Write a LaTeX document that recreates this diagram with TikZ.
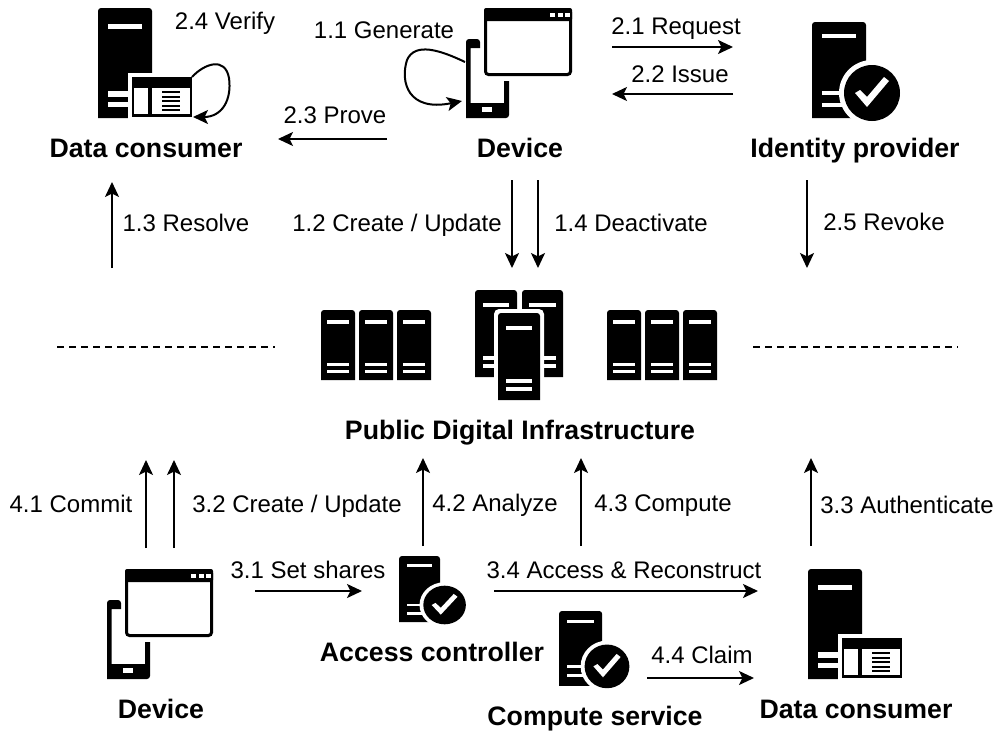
\documentclass[tikz,border=0pt]{standalone}
\usepackage{fontspec}
\setmainfont{Liberation Sans}
\usetikzlibrary{arrows.meta}
\newcommand{\SrvBody}[4]{% x y w h
  \fill[black] (#1,#2+#4) {[rounded corners=3pt] -- (#1,#2) -- (#1+#3,#2)} -- (#1+#3,#2+#4) -- cycle;
  \fill[white] (#1+.18*#3,#2+.145*#4) rectangle (#1+.82*#3,#2+.195*#4);
  \fill[white] (#1+.18*#3,#2+.755*#4) rectangle (#1+.82*#3,#2+.805*#4);
  \fill[white] (#1+.18*#3,#2+.85*#4) rectangle (#1+.82*#3,#2+.9*#4);
}
\tikzset{
  x=1pt,y=-1pt,
  lbl/.style={font=\fontsize{24}{28}\selectfont,inner sep=0pt,anchor=base,yshift=-8.5pt},
  ttl/.style={font=\fontsize{26.7}{30}\selectfont\bfseries,inner sep=0pt,anchor=base,yshift=-9pt},
  flow/.style={line width=2pt,-{Stealth[length=15pt,width=14pt,inset=3.5pt]}},
  sep/.style={line width=1.2pt,dash pattern=on 7pt off 5pt},
  pics/srvwin/.style={code={
    \SrvBody{0}{0}{54}{110}
    \fill[white] (30,65) rectangle (98,113);
    \fill[black] (34,69) rectangle (94,109);
    \fill[white] (36,80) rectangle (50,106);
    \fill[white] (54,80) rectangle (92,106);
    \foreach \k in {84,88.5,93,97.5,102}{\fill[black] (64,\k-1) rectangle (82,\k+1);}
  }},
  pics/srvchk/.style={code={
    \fill[black] (0,96) {[rounded corners=3pt] -- (0,0) -- (54,0)} -- (54,96) -- cycle;
    \fill[white] (10,12) rectangle (44,16);
    \fill[white] (10,69) rectangle (44,73);
    \fill[white] (10,81) rectangle (44,85);
    \fill[white] (60,71) circle[radius=33];
    \fill[black] (60,71) circle[radius=28];
    \fill[white] (43,71) -- (55,85) -- (77,59) -- (72,55) -- (55,75) -- (48,68) -- cycle;
  }},
  pics/devc/.style={code={
    \fill[black] (0,79) {[rounded corners=3pt] -- (0,0) -- (14,0)} -- (14,9) -- (4.5,9) -- (4.5,64) -- (38,64) -- (38,42) -- (43,42) {[rounded corners=3pt] -- (43,79)} -- cycle;
    \fill[white] (16,68) rectangle (26,73);
    \draw[black,line width=3pt,rounded corners=3pt] (19.5,-29.5) rectangle (104.5,35.5);
    \fill[black,rounded corners=2pt] (18,-31) rectangle (106,-18);
    \foreach \k in {84,92,99}{\fill[white] (\k,-26) rectangle (\k+4.5,-22);}
  }},
}
\begin{document}
\begin{tikzpicture}
\useasboundingbox (0,0) rectangle (996,731);
% icons
\pic at (98,8) {srvwin};
\pic at (808,569) {srvwin};
\pic at (466,39) {devc};
\pic at (107,600) {devc};
\pic at (812,22) {srvchk};
\pic[xscale=.76,yscale=.69] at (399,556) {srvchk};
\pic[xscale=.8,yscale=.78] at (559,611) {srvchk};
% server rows
\foreach \sx in {321,359,397,607,645,683}{\SrvBody{\sx}{310}{34}{70}}
\SrvBody{475}{290}{42}{87}
\SrvBody{522}{290}{41}{87}
\fill[white,rounded corners=5pt] (494,309) rectangle (544,404);
\SrvBody{498}{313}{42}{87}
% labels
\node[lbl] (t11) at (384,30) {1.1 Generate};
\node[lbl] (t24) at (225,21) {2.4 Verify};
\node[lbl] (t21) at (676,26) {2.1 Request};
\node[lbl] (t22) at (680,74) {2.2 Issue};
\node[lbl] (t23) at (335,115) {2.3 Prove};
\node[ttl] (dc1) at (146,148) {Data consumer};
\node[ttl] (dv1) at (520,148) {Device};
\node[ttl] (idp) at (855,148) {Identity provider};
\node[lbl] (t13) at (186,223) {1.3 Resolve};
\node[lbl] (t12) at (397,223) {1.2 Create / Update};
\node[lbl] (t14) at (631,223) {1.4 Deactivate};
\node[lbl] (t25) at (884,222) {2.5 Revoke};
\node[ttl] (pdi) at (520,430) {Public Digital Infrastructure};
\node[lbl] (t41) at (71,504) {4.1 Commit};
\node[lbl] (t32) at (297,504) {3.2 Create / Update};
\node[lbl] (t42) at (495,503) {4.2 Analyze};
\node[lbl] (t43) at (663,503) {4.3 Compute};
\node[lbl] (t33) at (907,505) {3.3 Authenticate};
\node[lbl] (t31) at (308,570) {3.1 Set shares};
\node[lbl] (t34) at (624,570) {3.4 Access \& Reconstruct};
\node[ttl] (ac) at (432,652) {Access controller};
\node[lbl] (t44) at (702,655) {4.4 Claim};
\node[ttl] (dv2) at (161,709) {Device};
\node[ttl] (cs) at (595,716) {Compute service};
\node[ttl] (dc2) at (856,709) {Data consumer};
% connector ends
\coordinate (a21s) at (612,47);  \coordinate (a21e) at (733,47);
\coordinate (a22s) at (733,94);  \coordinate (a22e) at (612,94);
\coordinate (a23s) at (387,139); \coordinate (a23e) at (278,139);
\coordinate (a12s) at (512,180); \coordinate (a12e) at (512,268);
\coordinate (a14s) at (538,180); \coordinate (a14e) at (538,268);
\coordinate (a13s) at (112,268); \coordinate (a13e) at (112,182);
\coordinate (a25s) at (807,180); \coordinate (a25e) at (807,268);
\coordinate (d1s) at (57,347);   \coordinate (d1e) at (275,347);
\coordinate (d2s) at (753,347);  \coordinate (d2e) at (958,347);
\coordinate (a41s) at (146,548); \coordinate (a41e) at (146,460);
\coordinate (a32s) at (174,548); \coordinate (a32e) at (174,460);
\coordinate (a42s) at (423,546); \coordinate (a42e) at (423,458);
\coordinate (a43s) at (581,546); \coordinate (a43e) at (581,458);
\coordinate (a33s) at (811,546); \coordinate (a33e) at (811,458);
\coordinate (a31s) at (255,591); \coordinate (a31e) at (362,591);
\coordinate (a34s) at (494,591); \coordinate (a34e) at (758,591);
\coordinate (a44s) at (647,678); \coordinate (a44e) at (754,678);
\coordinate (l24s) at (192,77);  \coordinate (l24e) at (193,117);
\coordinate (l11s) at (465,62);  \coordinate (l11e) at (462,101);
% connectors
\foreach \a in {a21,a22,a23,a12,a14,a13,a25,a41,a32,a42,a43,a33,a31,a34,a44}{
  \draw[flow] (\a s) -- (\a e);
}
\draw[sep] (d1s) -- (d1e);
\draw[sep] (d2s) -- (d2e);
\draw[flow] (l24s) .. controls (204,64) and (225,56) .. (229,78) .. controls (232,100) and (222,117) .. (l24e);
\draw[flow] (l11s) .. controls (440,50) and (415,42) .. (407,60) .. controls (400,82) and (408,112) .. (l11e);
\end{tikzpicture}
\end{document}
